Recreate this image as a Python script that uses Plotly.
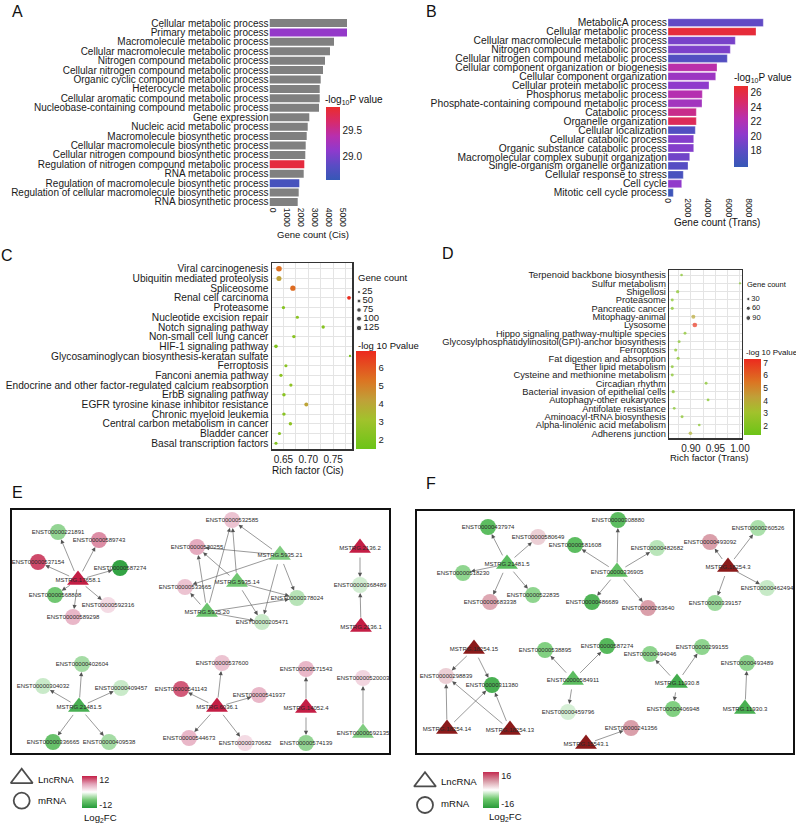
import plotly.graph_objects as go

W, H = 796, 825
FONT = "Liberation Sans, Arial, sans-serif"


def fx(px):
    return px / W


def fy(py):
    return 1 - py / H


# ---------------- Panel A data ----------------
a_terms = [
    "Cellular metabolic process", "Primary metabolic process", "Macromolecule metabolic process",
    "Cellular macromolecule metabolic process", "Nitrogen compound metabolic process",
    "Cellular nitrogen compound metabolic process", "Organic cyclic compound metabolic process",
    "Heterocycle metabolic process", "Cellular aromatic compound metabolic process",
    "Nucleobase-containing compound metabolic process", "Gene expression",
    "Nucleic acid metabolic process", "Macromolecule biosynthetic process",
    "Cellular macromolecule biosynthetic process", "Cellular nitrogen compound biosynthetic process",
    "Regulation of nitrogen compound metabolic process", "RNA metabolic process",
    "Regulation of macromolecule biosynthetic process",
    "Regulation of cellular macromolecule biosynthetic process", "RNA biosynthetic process",
]
a_counts = [5536, 5536, 4607, 4321, 3964, 3821, 3657, 3586, 3586, 3536,
            2843, 2729, 2657, 2586, 2557, 2486, 2443, 2129, 2086, 2014]
a_logp = [None, 29.15, None, None, None, None, None, None, None, None,
          None, None, None, None, None, 29.85, None, 28.7, None, None]
a_ticks = [0, 1000, 2000, 3000, 4000, 5000]

# ---------------- Panel B data ----------------
b_terms = [
    "MetabolicA process", "Cellular metabolic process", "Cellular macromolecule metabolic process",
    "Nitrogen compound metabolic process", "Cellular nitrogen compound metabolic process",
    "Cellular component organization or biogenesis", "Cellular component organization",
    "Cellular protein metabolic process", "Phosphorus metabolic process",
    "Phosphate-containing compound metabolic process", "Catabolic process",
    "Organelle organization", "Cellular localization", "Cellular cataboilc process",
    "Organic substance catabolic process", "Macromolecular complex subunit organization",
    "Single-organism organelle organization", "Cellular response to stress", "Cell cycle",
    "Mitotic cell cycle process",
]
b_counts = [9483, 8756, 6697, 6199, 5900, 4876, 4746, 4080, 3413, 3383,
            2816, 2816, 2716, 2557, 2557, 2159, 1990, 1522, 1363, 527]
b_logp = [18.3, 26.4, 19.3, 19.5, 17.6, 22.6, 21.0, 20.3, 22.3, 21.3,
          23.6, 25.3, 17.5, 19.8, 19.8, 19.0, 17.8, 17.0, 20.4, 16.3]
b_ticks = [0, 2000, 4000, 6000, 8000]

# ---------------- Panel C data ----------------
c_terms = [
    "Viral carcinogenesis", "Ubiquitin mediated proteolysis", "Spliceosome",
    "Renal cell carcinoma", "Proteasome", "Nucleotide excision repair",
    "Notch signaling pathway", "Non-small cell lung cancer", "HIF-1 signaling pathway",
    "Glycosaminoglycan biosynthesis-keratan sulfate", "Ferroptosis", "Fanconi anemia pathway",
    "Endocrine and other factor-regulated calcium reabsorption", "ErbB signaling pathway",
    "EGFR tyrosine kinase inhibitor resistance", "Chronic myeloid leukemia",
    "Central carbon metabolism in cancer", "Bladder cancer", "Basal transcription factors",
]
c_rich = [0.641, 0.641, 0.669, 0.782, 0.650, 0.678, 0.730, 0.671, 0.635, 0.784,
          0.655, 0.645, 0.665, 0.651, 0.696, 0.651, 0.664, 0.642, 0.635]
c_count = [130, 100, 110, 45, 30, 28, 32, 35, 40, 8, 25, 30, 30, 35, 50, 35, 35, 25, 25]
c_logp = [5.4, 4.2, 5.5, 6.9, 2.3, 2.4, 2.3, 2.4, 2.1, 1.9, 2.4, 2.5, 2.6, 2.4, 4.1, 2.4, 2.6, 2.3, 2.2]
c_size_legend = [25, 50, 75, 100, 125]

# ---------------- Panel D data ----------------
d_terms = [
    "Terpenoid backbone biosynthesis", "Sulfur metabolism", "Shigellosi", "Proteasome",
    "Pancreatic cancer", "Mitophagy-animal", "Lysosome", "Hippo signaling pathway-multiple species",
    "Glycosylphosphatidylinositol(GPI)-anchor biosynthesis", "Ferroptosis",
    "Fat digestion and absorption", "Ether lipid metabolism", "Cysteine and methionine metabolism",
    "Circadian rhythm", "Bacterial invasion of epithelial cells", "Autophagy-other eukaryotes",
    "Antifolate resistance", "Aminoacyl-tRNA biosynthesis", "Alpha-linolenic acid metabolism",
    "Adherens junction",
]
d_rich = [0.881, 1.000, 0.873, 0.862, 0.862, 0.905, 0.908, 0.888, 0.876, 0.869,
          0.874, 0.862, 0.862, 0.931, 0.864, 0.935, 0.866, 0.882, 0.917, 0.899]
d_count = [15, 8, 30, 22, 25, 55, 85, 20, 20, 25, 25, 22, 22, 20, 28, 18, 18, 22, 15, 40]
d_logp = [2.0, 1.8, 2.1, 2.0, 2.0, 4.0, 7.0, 2.1, 2.0, 2.1, 2.1, 2.0, 2.0, 2.0, 2.1, 1.9, 1.9, 2.1, 2.0, 3.6]
d_size_legend = [30, 60, 90]

# ---------------- Panel E network ----------------
e_nodes = [
    "ENST00000221891", "ENST00000589743", "ENST00000537154", "ENST00000587274", "MSTRG.17658.1",
    "ENST00000568808", "ENST00000592316", "ENST00000589298",
    "ENST00000532585", "ENST00000530255", "MSTRG.5935.21", "MSTRG.5935.14", "ENST00000533665",
    "ENST00000378024", "MSTRG.5935.20", "ENST00000205471",
    "MSTRG.2136.2", "ENST00000368489", "MSTRG.2136.1",
    "ENST00000402604", "ENST00000304032", "ENST00000409457", "MSTRG.21481.5",
    "ENST00000336665", "ENST00000409538",
    "ENST00000537600", "ENST00000541143", "ENST00000541937", "MSTRG.6036.1",
    "ENST00000544673", "ENST00000370682",
    "ENST00000571543", "MSTRG.14052.4", "ENST00000574139",
    "ENST00000520003", "ENST00000592135",
]
e_type = ["m", "m", "m", "m", "L", "m", "m", "m",
          "m", "m", "L", "L", "m", "m", "L", "m",
          "L", "m", "L",
          "m", "m", "m", "L", "m", "m",
          "m", "m", "m", "L", "m", "m",
          "m", "L", "m",
          "m", "L"]
e_fc = [-6, 9, 13, -14, 15.5, -8, 3, 6,
        5, 7, -7, -8, 5, -4, -8.5, -3,
        15.5, -2.5, 15.5,
        -5, -3, -3, -12, -9, -5,
        5, 12, 6, 15.5, 6, 3,
        6, 15.5, -6,
        3.5, -7]
# layout positions of the network drawing (box-local units)
e_px = [46, 87, 26, 108, 66, 43, 96, 61,
        220, 185, 268, 225, 173, 285, 195, 250,
        348, 348, 349,
        70, 31, 109, 67, 41, 97,
        210, 169, 247, 205, 177, 233,
        294, 294, 294,
        351, 351]
e_py = [22, 30, 52, 58, 70, 85, 95, 107,
        10, 37, 45, 72, 77, 88, 102, 112,
        38, 75, 117,
        154, 176, 178, 197, 232, 232,
        153, 179, 185, 197, 228, 233,
        159, 198, 233,
        168, 223]
e_edges = [
    ("MSTRG.17658.1", "ENST00000221891"), ("MSTRG.17658.1", "ENST00000589743"),
    ("MSTRG.17658.1", "ENST00000537154"), ("MSTRG.17658.1", "ENST00000587274"),
    ("MSTRG.17658.1", "ENST00000568808"), ("MSTRG.17658.1", "ENST00000592316"),
    ("MSTRG.17658.1", "ENST00000589298"),
    ("MSTRG.5935.21", "ENST00000532585"), ("MSTRG.5935.21", "ENST00000530255"),
    ("MSTRG.5935.21", "ENST00000533665"), ("MSTRG.5935.21", "ENST00000378024"),
    ("MSTRG.5935.21", "ENST00000205471"),
    ("MSTRG.5935.14", "ENST00000532585"), ("MSTRG.5935.14", "ENST00000530255"),
    ("MSTRG.5935.14", "ENST00000205471"), ("MSTRG.5935.14", "ENST00000378024"),
    ("MSTRG.5935.20", "ENST00000532585"), ("MSTRG.5935.20", "ENST00000530255"),
    ("MSTRG.5935.20", "ENST00000533665"), ("MSTRG.5935.20", "ENST00000378024"),
    ("MSTRG.5935.20", "ENST00000205471"),
    ("MSTRG.2136.2", "ENST00000368489"), ("MSTRG.2136.1", "ENST00000368489"),
    ("MSTRG.21481.5", "ENST00000402604"), ("MSTRG.21481.5", "ENST00000304032"),
    ("MSTRG.21481.5", "ENST00000409457"), ("MSTRG.21481.5", "ENST00000336665"),
    ("MSTRG.21481.5", "ENST00000409538"),
    ("MSTRG.6036.1", "ENST00000537600"), ("MSTRG.6036.1", "ENST00000541143"),
    ("MSTRG.6036.1", "ENST00000541937"), ("MSTRG.6036.1", "ENST00000544673"),
    ("MSTRG.6036.1", "ENST00000370682"),
    ("MSTRG.14052.4", "ENST00000571543"), ("MSTRG.14052.4", "ENST00000574139"),
    ("ENST00000592135", "ENST00000520003"),
]

# ---------------- Panel F network ----------------
f_nodes = [
    "ENST00000437974", "ENST00000580649", "MSTRG.21481.5", "ENST00000518230",
    "ENST00000683338", "ENST00000522835",
    "ENST00000308880", "ENST00000581608", "ENST00000482682", "ENST00000336905",
    "ENST00000486689", "ENST00000263640",
    "ENST00000493092", "ENST00000260526", "MSTRG.18254.3", "ENST00000462494", "ENST00000339157",
    "MSTRG.18254.15", "ENST00000298839", "ENST00000311380", "MSTRG.18254.14", "MSTRG.18254.13",
    "ENST00000538895", "ENST00000587274", "ENST00000584911", "ENST00000459796",
    "ENST00000494046", "ENST00000299155", "MSTRG.11930.8", "ENST00000406948",
    "ENST00000493489", "MSTRG.11930.3",
    "ENST00000241356", "MSTRG.15543.1",
]
f_type = ["m", "m", "L", "m", "m", "m",
          "m", "m", "m", "L", "m", "m",
          "m", "m", "L", "m", "m",
          "L", "m", "m", "L", "L",
          "m", "m", "L", "m",
          "m", "m", "L", "m",
          "m", "L",
          "m", "L"]
f_fc = [-13, 5, -13, -8, 9, -8,
        -13, -13, -5, -12, -15, 10,
        10, -6, 21, -4, -7,
        21, 5, -16, 21, 21,
        -9, -14, -13, -3,
        -8, -8, -17, -9,
        -8, -16,
        10, 21]
f_px = [71, 121, 90, 46, 73, 116,
        201, 158, 240, 200, 175, 231,
        293, 341, 311, 350, 298,
        57, 29, 75, 30, 93,
        128, 190, 156, 151,
        233, 285, 260, 256,
        330, 328,
        214, 169]
f_py = [16, 26, 53, 62, 91, 84,
        9, 34, 37, 61, 91, 97,
        31, 17, 56, 77, 92,
        138, 165, 174, 218, 219,
        139, 135, 169, 201,
        143, 136, 172, 198,
        152, 198,
        217, 233]
f_edges = [
    ("MSTRG.21481.5", "ENST00000437974"), ("MSTRG.21481.5", "ENST00000580649"),
    ("MSTRG.21481.5", "ENST00000518230"), ("MSTRG.21481.5", "ENST00000683338"),
    ("MSTRG.21481.5", "ENST00000522835"),
    ("ENST00000336905", "ENST00000308880"), ("ENST00000336905", "ENST00000581608"),
    ("ENST00000336905", "ENST00000482682"), ("ENST00000336905", "ENST00000486689"),
    ("ENST00000336905", "ENST00000263640"),
    ("MSTRG.18254.3", "ENST00000493092"), ("MSTRG.18254.3", "ENST00000260526"),
    ("MSTRG.18254.3", "ENST00000462494"), ("MSTRG.18254.3", "ENST00000339157"),
    ("MSTRG.18254.15", "ENST00000298839"), ("MSTRG.18254.15", "ENST00000311380"),
    ("MSTRG.18254.14", "ENST00000298839"), ("MSTRG.18254.14", "ENST00000311380"),
    ("MSTRG.18254.13", "ENST00000298839"), ("MSTRG.18254.13", "ENST00000311380"),
    ("ENST00000584911", "ENST00000538895"), ("ENST00000584911", "ENST00000587274"),
    ("ENST00000584911", "ENST00000459796"),
    ("MSTRG.11930.8", "ENST00000494046"), ("MSTRG.11930.8", "ENST00000299155"),
    ("MSTRG.11930.8", "ENST00000406948"),
    ("MSTRG.11930.3", "ENST00000493489"),
    ("MSTRG.15543.1", "ENST00000241356"),
]

# ---------------- colour scales ----------------
P_SCALE = [[0, "#3658b6"], [0.2, "#5a4cc4"], [0.4, "#8e3acd"], [0.6, "#b82fae"],
           [0.8, "#d82a6a"], [1, "#ea2c2c"]]
G_SCALE = [[0, "#6cc417"], [0.3, "#a2c22c"], [0.5, "#c0a038"], [0.7, "#dc7422"], [1, "#ec2a1e"]]
E_SCALE = [[0, "#249a38"], [0.25, "#74c874"], [0.5, "#ffffff"], [0.75, "#e2a2b8"], [1, "#c41e45"]]
F_SCALE = [[0, "#2a9a3a"], [0.25, "#6cc86c"], [0.5, "#ffffff"], [0.75, "#d89aa6"], [1, "#c42a50"]]
F_TRI_SCALE = [[0, "#2a9a3a"], [0.25, "#6cc86c"], [0.5, "#ffffff"], [0.75, "#c07070"], [1, "#8b1a1a"]]

fig = go.Figure()

# ---------------- Domains ----------------
A_X = [fx(269.5), fx(355)]
A_Y = [fy(206.7), fy(18.3)]
B_X = [fx(668), fx(775)]
B_Y = [fy(197.2), fy(18.2)]
C_X = [fx(272), fx(352)]
C_Y = [fy(449), fy(263)]
D_X = [fx(669.3), fx(741.7)]
D_Y = [fy(438.3), fy(270)]
E_BOX = (12, 510, 389, 753)
F_BOX = (417, 511, 793, 753)

# ---------------- Panel A ----------------
a_gray_t = [t for t, p in zip(a_terms, a_logp) if p is None]
a_gray_c = [c for c, p in zip(a_counts, a_logp) if p is None]
a_col_t = [t for t, p in zip(a_terms, a_logp) if p is not None]
a_col_c = [c for c, p in zip(a_counts, a_logp) if p is not None]
a_col_p = [p for p in a_logp if p is not None]

fig.add_trace(go.Bar(x=a_gray_c, y=a_gray_t, orientation="h", width=0.85,
                     marker=dict(color="#808080", line=dict(width=0)),
                     xaxis="x", yaxis="y", hoverinfo="skip"))
fig.add_trace(go.Bar(x=a_col_c, y=a_col_t, orientation="h", width=0.85,
                     marker=dict(color=a_col_p, colorscale=P_SCALE, cmin=28.57, cmax=29.93,
                                 line=dict(width=0), showscale=True,
                                 colorbar=dict(x=fx(326), xanchor="left", y=fy(107), yanchor="top",
                                               len=73, lenmode="pixels", thickness=14,
                                               thicknessmode="pixels", xpad=0, ypad=0,
                                               outlinewidth=0, ticks="", tickvals=[29.0, 29.5],
                                               ticktext=["29.0", "29.5"],
                                               tickfont=dict(size=10, family=FONT, color="#222"))),
                     xaxis="x", yaxis="y", hoverinfo="skip"))

# ---------------- Panel B ----------------
fig.add_trace(go.Bar(x=b_counts, y=b_terms, orientation="h", width=0.88,
                     marker=dict(color=b_logp, colorscale=P_SCALE, cmin=15.8, cmax=26.9,
                                 line=dict(width=0.5, color="rgba(255,255,255,0.6)"), showscale=True,
                                 colorbar=dict(x=fx(734), xanchor="left", y=fy(86), yanchor="top",
                                               len=80.7, lenmode="pixels", thickness=14,
                                               thicknessmode="pixels", xpad=0, ypad=0,
                                               outlinewidth=0, ticks="", tickvals=[18, 20, 22, 24, 26],
                                               tickfont=dict(size=10, family=FONT, color="#222"))),
                     xaxis="x2", yaxis="y2", hoverinfo="skip"))


# ---------------- Panel C ----------------
def c_size(n):
    return 1.2 + 4.3 * (n / 125) ** 0.5


def d_size(n):
    return 1.2 + 3.6 * (n / 90) ** 0.5


fig.add_trace(go.Scatter(x=c_rich, y=c_terms, mode="markers",
                         marker=dict(size=[c_size(n) for n in c_count], color=c_logp,
                                     colorscale=G_SCALE, cmin=1.5, cmax=6.95, line=dict(width=0),
                                     opacity=1, showscale=True,
                                     colorbar=dict(x=fx(356), xanchor="left", y=fy(350.7),
                                                   yanchor="top", len=97.6, lenmode="pixels",
                                                   thickness=20, thicknessmode="pixels", xpad=0,
                                                   ypad=0, outlinewidth=0, ticks="",
                                                   tickvals=[2, 3, 4, 5, 6],
                                                   tickfont=dict(size=9.5, family=FONT, color="#222"))),
                         xaxis="x3", yaxis="y3", hoverinfo="skip", cliponaxis=False))

# ---------------- Panel D ----------------
fig.add_trace(go.Scatter(x=d_rich, y=d_terms, mode="markers",
                         marker=dict(size=[d_size(n) for n in d_count], color=d_logp,
                                     colorscale=G_SCALE, cmin=1.26, cmax=7.3, line=dict(width=0),
                                     showscale=True,
                                     colorbar=dict(x=fx(744), xanchor="left", y=fy(359),
                                                   yanchor="top", len=76, lenmode="pixels",
                                                   thickness=16.7, thicknessmode="pixels", xpad=0,
                                                   ypad=0, outlinewidth=0, ticks="",
                                                   tickvals=[2, 3, 4, 5, 6, 7],
                                                   tickfont=dict(size=8.5, family=FONT, color="#222"))),
                         xaxis="x4", yaxis="y4", hoverinfo="skip", cliponaxis=False))


# ---------------- Networks ----------------
def add_network(nodes, types, fc, px, py, edges, xa, ya, scale, tri_scale, lim, cb):
    pos = {n: (x, y) for n, x, y in zip(nodes, px, py)}
    for kind, sym, size, sc in (("m", "circle", 16, scale), ("L", "triangle-up", 19, tri_scale)):
        idx = [i for i, t in enumerate(types) if t == kind]
        mk = dict(symbol=sym, size=size, color=[fc[i] for i in idx], colorscale=sc,
                  cmin=-lim, cmax=lim, line=dict(width=0))
        if kind == "m":
            mk["showscale"] = True
            mk["colorbar"] = cb
        fig.add_trace(go.Scatter(x=[px[i] for i in idx], y=[py[i] for i in idx],
                                 mode="markers", marker=mk, xaxis=xa, yaxis=ya,
                                 hoverinfo="skip", cliponaxis=True))
    fig.add_trace(go.Scatter(x=px, y=py, mode="text", text=nodes,
                             textfont=dict(size=6, family=FONT, color="#2a2a2a"),
                             textposition="middle center", xaxis=xa, yaxis=ya,
                             hoverinfo="skip", cliponaxis=True))
    anns = []
    for s, t in edges:
        sx, sy = pos[s]
        tx, ty = pos[t]
        anns.append(dict(x=tx, y=ty, ax=sx, ay=sy, xref=xa, yref=ya, axref=xa, ayref=ya,
                         showarrow=True, arrowhead=2, arrowsize=1.4, arrowwidth=0.6,
                         arrowcolor="#555555", standoff=8, startstandoff=8, text=""))
    return anns


cbE = dict(x=fx(81.7), xanchor="left", y=fy(776), yanchor="top", len=32.3, lenmode="pixels",
           thickness=15, thicknessmode="pixels", xpad=0, ypad=0, outlinewidth=0, ticks="",
           tickvals=[12, -12], ticktext=["12", "-12"],
           tickfont=dict(size=9, family=FONT, color="#222"))
cbF = dict(x=fx(482.7), xanchor="left", y=fy(771.7), yanchor="top", len=35.6, lenmode="pixels",
           thickness=16, thicknessmode="pixels", xpad=0, ypad=0, outlinewidth=0, ticks="",
           tickvals=[16, -16], ticktext=["16", "-16"],
           tickfont=dict(size=9, family=FONT, color="#222"))

annotations = []
annotations += add_network(e_nodes, e_type, e_fc, e_px, e_py, e_edges, "x5", "y5",
                           E_SCALE, E_SCALE, 15.5, cbE)
annotations += add_network(f_nodes, f_type, f_fc, f_px, f_py, f_edges, "x6", "y6",
                           F_SCALE, F_TRI_SCALE, 21, cbF)

# ---------------- Legend marks on a pixel overlay axis ----------------
fig.add_trace(go.Scatter(x=[359] * len(c_size_legend), y=[292, 301, 310, 318.7, 328],
                         mode="markers+text", text=[str(v) for v in c_size_legend],
                         textposition="middle right",
                         textfont=dict(size=9.5, family=FONT, color="#222"),
                         marker=dict(size=[c_size(v) for v in c_size_legend], color="black"),
                         xaxis="x7", yaxis="y7", hoverinfo="skip", cliponaxis=False))
fig.add_trace(go.Scatter(x=[748.3] * len(d_size_legend), y=[299, 308.3, 318],
                         mode="markers+text", text=[str(v) for v in d_size_legend],
                         textposition="middle right",
                         textfont=dict(size=7.5, family=FONT, color="#222"),
                         marker=dict(size=[d_size(v) for v in d_size_legend], color="black"),
                         xaxis="x7", yaxis="y7", hoverinfo="skip", cliponaxis=False))
fig.add_trace(go.Scatter(x=[21.7, 21.7, 425, 425], y=[778.3, 800.7, 781.7, 805],
                         mode="markers",
                         marker=dict(symbol=["triangle-up-open", "circle-open",
                                             "triangle-up-open", "circle-open"],
                                     size=[19, 16, 19, 16], color="black", line=dict(width=1.8)),
                         xaxis="x7", yaxis="y7", hoverinfo="skip", cliponaxis=False))


def ann(text, x, y, size, xanchor="left", yanchor="middle", color="#111"):
    annotations.append(dict(text=text, x=fx(x), y=fy(y), xref="paper", yref="paper",
                            xanchor=xanchor, yanchor=yanchor, showarrow=False,
                            font=dict(size=size, family=FONT, color=color)))


# panel letters
ann("A", 17, 11.5, 16, "center")
ann("B", 431, 11.5, 16, "center")
ann("C", 7, 255, 16, "center")
ann("D", 447.5, 253.7, 16, "center")
ann("E", 17.5, 492.5, 16, "center")
ann("F", 430.5, 483.7, 16, "center")
# axis titles
ann("Gene count (Cis)", 313.3, 234.3, 9.5, "center")
ann("Gene count (Trans)", 716.7, 222.7, 10, "center")
ann("Rich factor (Cis)", 308.3, 470, 10, "center")
ann("Rich factor (Trans)", 709.3, 457.3, 9.5, "center")
# colorbar titles
ann("-log<sub>10</sub>P value", 323.3, 100, 10)
ann("-log<sub>10</sub>P value", 731.7, 78.3, 10)
ann("-log 10 Pvalue", 356, 345, 9.5)
ann("-log 10 Pvalue", 744.3, 352.3, 8)
ann("Gene count", 356, 277.3, 9.5)
ann("Gene count", 745, 284, 7.5)
# network legends
ann("LncRNA", 36, 779.3, 9.6)
ann("mRNA", 36, 800.5, 9.6)
ann("Log<sub>2</sub>FC", 81.7, 818.3, 9.6)
ann("LncRNA", 439.3, 781.7, 9.6)
ann("mRNA", 439.3, 803, 9.6)
ann("Log<sub>2</sub>FC", 487, 817, 9.6)

tickf = dict(family=FONT, color="#1a1a1a")


def cat_axis(terms, dom, size, n_pad=0.5):
    return dict(domain=dom, categoryorder="array", categoryarray=terms,
                range=[len(terms) - 1 + n_pad, -n_pad], showgrid=False, zeroline=False,
                tickmode="linear", tick0=0, dtick=1,
                ticks="", tickfont=dict(size=size, **tickf), showline=False, fixedrange=True)


grid = "#e4e4e4"
layout = dict(
    width=W, height=H, margin=dict(l=0, r=0, t=0, b=0, autoexpand=False),
    paper_bgcolor="white", plot_bgcolor="rgba(0,0,0,0)", showlegend=False,
    barmode="overlay", font=dict(family=FONT, color="#111"),
    xaxis=dict(domain=A_X, anchor="y", range=[0, (355 - 269.5) / 14 * 1000], tickvals=a_ticks,
               tickangle=90, ticks="", showgrid=False, zeroline=False, showline=False,
               tickfont=dict(size=8.5, **tickf), ticklabelshift=3),
    yaxis=dict(anchor="x", **cat_axis(a_terms, A_Y, 10)),
    xaxis2=dict(domain=B_X, anchor="y2", range=[0, (775 - 668) / 10.05 * 1000], tickvals=b_ticks,
                tickangle=90, ticks="", showgrid=False, zeroline=False, showline=False,
                tickfont=dict(size=8.5, **tickf)),
    yaxis2=dict(anchor="x2", **cat_axis(b_terms, B_Y, 10.3)),
    xaxis3=dict(domain=C_X, anchor="y3", range=[0.627, 0.788], tickvals=[0.65, 0.70, 0.75],
                ticktext=["0.65", "0.70", "0.75"], ticks="", showgrid=True, gridcolor=grid,
                gridwidth=1, zeroline=False, showline=True, mirror=True, linecolor="#333",
                linewidth=1.5, tickfont=dict(size=10, **tickf),
                minor=dict(tickvals=[0.625, 0.675, 0.725, 0.775], showgrid=True, gridcolor=grid,
                           gridwidth=1)),
    yaxis3=dict(anchor="x3", domain=C_Y, categoryorder="array", categoryarray=c_terms,
                range=[len(c_terms) - 0.4, -0.6], tickmode="linear", tick0=0, dtick=1,
                showgrid=True, gridcolor=grid, gridwidth=1,
                zeroline=False, ticks="", showline=True, mirror=True, linecolor="#333",
                linewidth=1.5, tickfont=dict(size=10.2, **tickf)),
    xaxis4=dict(domain=D_X, anchor="y4", range=[0.856, 1.0035], tickvals=[0.90, 0.95, 1.00],
                ticktext=["0.90", "0.95", "1.00"], ticks="", showgrid=True, gridcolor=grid,
                gridwidth=1, zeroline=False, showline=True, mirror=True, linecolor="#333",
                linewidth=1.5, tickfont=dict(size=10, **tickf),
                minor=dict(tickvals=[0.875, 0.925, 0.975], showgrid=True, gridcolor=grid,
                           gridwidth=1)),
    yaxis4=dict(anchor="x4", domain=D_Y, categoryorder="array", categoryarray=d_terms,
                range=[len(d_terms) - 0.4, -0.6], tickmode="linear", tick0=0, dtick=1,
                showgrid=True, gridcolor=grid, gridwidth=1,
                zeroline=False, ticks="", showline=True, mirror=True, linecolor="#333",
                linewidth=1.5, tickfont=dict(size=9.3, **tickf)),
    xaxis5=dict(domain=[fx(E_BOX[0]), fx(E_BOX[2])], anchor="y5", range=[0, E_BOX[2] - E_BOX[0]],
                showgrid=False, zeroline=False, showticklabels=False, ticks="", showline=True,
                mirror=True, linecolor="#111", linewidth=2),
    yaxis5=dict(domain=[fy(E_BOX[3]), fy(E_BOX[1])], anchor="x5", range=[E_BOX[3] - E_BOX[1], 0],
                showgrid=False, zeroline=False, showticklabels=False, ticks="", showline=True,
                mirror=True, linecolor="#111", linewidth=2),
    xaxis6=dict(domain=[fx(F_BOX[0]), fx(F_BOX[2])], anchor="y6", range=[0, F_BOX[2] - F_BOX[0]],
                showgrid=False, zeroline=False, showticklabels=False, ticks="", showline=True,
                mirror=True, linecolor="#111", linewidth=2),
    yaxis6=dict(domain=[fy(F_BOX[3]), fy(F_BOX[1])], anchor="x6", range=[F_BOX[3] - F_BOX[1], 0],
                showgrid=False, zeroline=False, showticklabels=False, ticks="", showline=True,
                mirror=True, linecolor="#111", linewidth=2),
    xaxis7=dict(domain=[0, 1], anchor="y7", range=[0, W], visible=False),
    yaxis7=dict(domain=[0, 1], anchor="x7", range=[H, 0], visible=False),
    annotations=annotations,
)
fig.update_layout(**layout)
fig.write_html("out.html", config={"displayModeBar": False, "staticPlot": True},
               post_script="document.body.style.margin='0';document.body.style.padding='0';")
